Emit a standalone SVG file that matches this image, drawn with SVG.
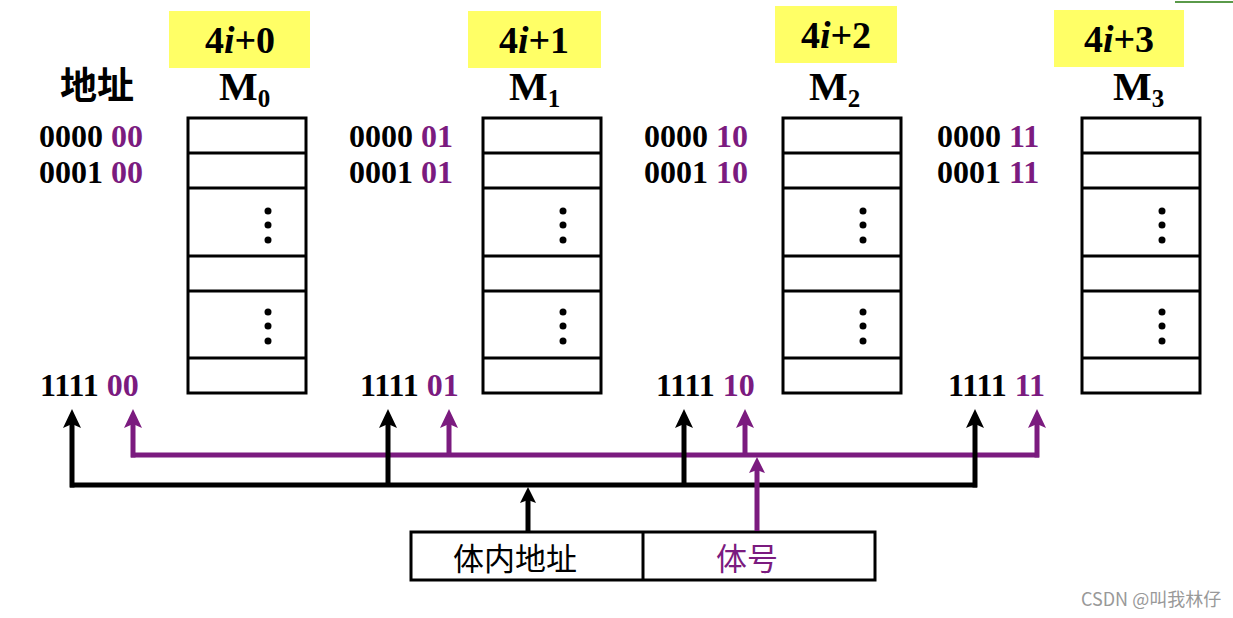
<svg xmlns="http://www.w3.org/2000/svg" width="1233" height="618" viewBox="0 0 1233 618">
<style>
.lbl{fill:#ffff66}
.lt{font-family:"Liberation Serif",serif;font-weight:bold;font-size:38px;fill:#000;text-anchor:middle}
.mt{font-family:"Liberation Serif",serif;font-weight:bold;font-size:41px;fill:#000}
.sub{font-size:25px}
.addr{font-family:"Liberation Serif",serif;font-weight:bold;font-size:32px;fill:#000}
.p{fill:#7b1b7f}
.cell{fill:#fff;stroke:#000;stroke-width:3}
.dot{fill:#000}
.cjk{font-family:"Noto Sans CJK SC","Noto Sans CJK JP",sans-serif;font-size:31px}
.bk{stroke:#000;stroke-width:5;fill:none}
.pl{stroke:#7b1b7f;stroke-width:5;fill:none}
</style>
<defs>
<marker id="ab" markerUnits="userSpaceOnUse" markerWidth="26" markerHeight="26" viewBox="-22 -13 26 26" refX="-10" refY="0" orient="auto">
<path d="M0,0 L-19,-9 L-15,0 L-19,9 Z" fill="#000"/>
</marker>
<marker id="ap" markerUnits="userSpaceOnUse" markerWidth="26" markerHeight="26" viewBox="-22 -13 26 26" refX="-10" refY="0" orient="auto">
<path d="M0,0 L-19,-9 L-15,0 L-19,9 Z" fill="#7b1b7f"/>
</marker>
<marker id="abs" markerUnits="userSpaceOnUse" markerWidth="26" markerHeight="26" viewBox="-22 -13 26 26" refX="-10" refY="0" orient="auto">
<path d="M0,0 L-16,-8 L-13,0 L-16,8 Z" fill="#000"/>
</marker>
<marker id="aps" markerUnits="userSpaceOnUse" markerWidth="26" markerHeight="26" viewBox="-22 -13 26 26" refX="-10" refY="0" orient="auto">
<path d="M0,0 L-16,-8 L-13,0 L-16,8 Z" fill="#7b1b7f"/>
</marker>
<g id="col">
<rect class="cell" x="0" y="0" width="118" height="275"/>
<line class="cell" x1="0" y1="35" x2="118" y2="35"/>
<line class="cell" x1="0" y1="70" x2="118" y2="70"/>
<line class="cell" x1="0" y1="138" x2="118" y2="138"/>
<line class="cell" x1="0" y1="173" x2="118" y2="173"/>
<line class="cell" x1="0" y1="240" x2="118" y2="240"/>
<circle class="dot" cx="80" cy="93" r="3.5"/>
<circle class="dot" cx="80" cy="107" r="3.5"/>
<circle class="dot" cx="80" cy="122" r="3.5"/>
<circle class="dot" cx="80" cy="194" r="3.5"/>
<circle class="dot" cx="80" cy="208" r="3.5"/>
<circle class="dot" cx="80" cy="223" r="3.5"/>
</g>
</defs>
<rect width="1233" height="618" fill="#fff"/>
<line x1="1175" y1="2" x2="1233" y2="2" stroke="#5a9a4a" stroke-width="2"/>

<text x="60" y="99" class="cjk" style="font-size:37px;font-weight:bold">地址</text>

<g id="M0">
<rect class="lbl" x="169" y="11" width="141" height="57"/>
<text x="240" y="53" class="lt">4<tspan font-style="italic">i</tspan>+0</text>
<text x="219" y="100" class="mt">M<tspan class="sub" dy="7">0</tspan></text>
<use href="#col" x="188" y="118"/>
<text x="39" y="147" class="addr">0000 <tspan class="p">00</tspan></text>
<text x="39" y="183" class="addr">0001 <tspan class="p">00</tspan></text>
<text x="40" y="396" class="addr">1111 <tspan class="p">00</tspan></text>
</g>

<g id="M1">
<rect class="lbl" x="468" y="11" width="133" height="57"/>
<text x="534" y="53" class="lt">4<tspan font-style="italic">i</tspan>+1</text>
<text x="509" y="100" class="mt">M<tspan class="sub" dy="7">1</tspan></text>
<use href="#col" x="483" y="118"/>
<text x="349" y="147" class="addr">0000 <tspan class="p">01</tspan></text>
<text x="349" y="183" class="addr">0001 <tspan class="p">01</tspan></text>
<text x="360" y="396" class="addr">1111 <tspan class="p">01</tspan></text>
</g>

<g id="M2">
<rect class="lbl" x="775" y="6" width="122" height="57"/>
<text x="836" y="48" class="lt">4<tspan font-style="italic">i</tspan>+2</text>
<text x="809" y="100" class="mt">M<tspan class="sub" dy="7">2</tspan></text>
<use href="#col" x="783" y="118"/>
<text x="644" y="147" class="addr">0000 <tspan class="p">10</tspan></text>
<text x="644" y="183" class="addr">0001 <tspan class="p">10</tspan></text>
<text x="656" y="396" class="addr">1111 <tspan class="p">10</tspan></text>
</g>

<g id="M3">
<rect class="lbl" x="1054" y="10" width="130" height="57"/>
<text x="1119" y="52" class="lt">4<tspan font-style="italic">i</tspan>+3</text>
<text x="1113" y="100" class="mt">M<tspan class="sub" dy="7">3</tspan></text>
<use href="#col" x="1082" y="118"/>
<text x="937" y="147" class="addr">0000 <tspan class="p">11</tspan></text>
<text x="937" y="183" class="addr">0001 <tspan class="p">11</tspan></text>
<text x="948" y="396" class="addr">1111 <tspan class="p">11</tspan></text>
</g>

<g id="addrReg">
<rect x="411" y="532" width="464" height="48" fill="#fff" stroke="#000" stroke-width="3"/>
<line x1="643" y1="532" x2="643" y2="580" stroke="#000" stroke-width="3"/>
<text x="515" y="570" class="cjk" text-anchor="middle" fill="#000">体内地址</text>
<text x="747" y="570" class="cjk p" text-anchor="middle">体号</text>
</g>

<g id="connectors">
<polyline class="pl" points="131,455 1039,455"/>
<line class="pl" x1="133" y1="457.5" x2="133" y2="419" marker-end="url(#ap)"/>
<line class="pl" x1="449" y1="455" x2="449" y2="419" marker-end="url(#ap)"/>
<line class="pl" x1="745" y1="455" x2="745" y2="419" marker-end="url(#ap)"/>
<line class="pl" x1="1037" y1="457.5" x2="1037" y2="419" marker-end="url(#ap)"/>
<polyline class="bk" points="70,485 977,485"/>
<line class="bk" x1="72" y1="487.5" x2="72" y2="419" marker-end="url(#ab)"/>
<line class="bk" x1="388" y1="485" x2="388" y2="419" marker-end="url(#ab)"/>
<line class="bk" x1="684" y1="485" x2="684" y2="419" marker-end="url(#ab)"/>
<line class="bk" x1="975" y1="487.5" x2="975" y2="419" marker-end="url(#ab)"/>
<line class="bk" x1="528" y1="531" x2="528" y2="497" marker-end="url(#abs)"/>
<line class="pl" x1="757" y1="531" x2="757" y2="467" marker-end="url(#aps)"/>
</g>

<text x="1081" y="606" font-family="'Noto Sans CJK SC',sans-serif" font-size="18" fill="#999">CSDN @叫我林仔</text>
</svg>
